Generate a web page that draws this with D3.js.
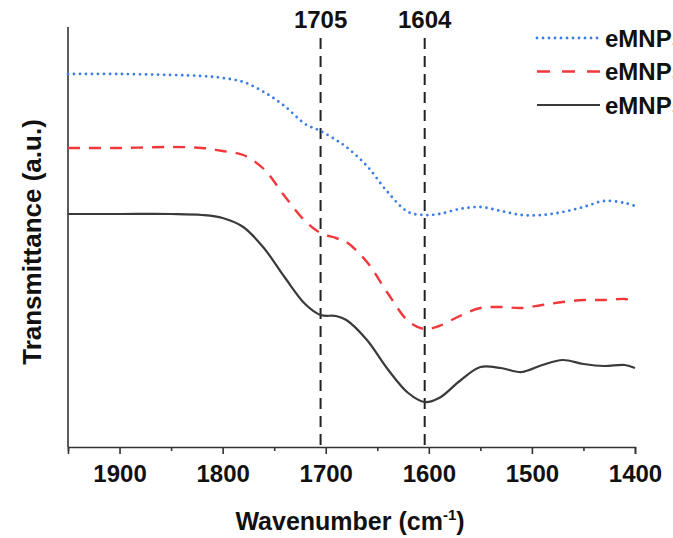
<!DOCTYPE html>
<html>
<head>
<meta charset="utf-8">
<script src="https://cdn.jsdelivr.net/npm/d3@7"></script>
<style>
  body { margin: 0; background: #fff; }
  svg { display: block; font-family: "Liberation Sans", Arial, sans-serif; }
</style>
</head>
<body>
<div id="chart"></div>
<script>
// data (transmittance in a.u.)
const wavenumbers = [1950, 1900, 1850, 1820, 1800, 1780, 1760, 1740, 1720, 1705, 1690, 1680, 1660, 1640, 1620, 1604, 1590, 1570, 1550, 1530, 1510, 1490, 1470, 1450, 1430, 1410, 1400]
const blueVals  = [373, 373, 372, 371, 369, 365, 355, 341, 323, 316, 307, 300, 281, 255, 235, 232, 233, 238, 240, 236, 232, 232, 235, 240, 246, 244, 241]
const redVals   = [299, 299, 300, 299, 296, 292, 278, 251, 226, 214, 209, 205, 185, 154, 126, 118, 121, 131, 139, 140, 139, 142, 145, 147, 147, 148, 146]
const blackVals = [233, 233, 233, 232, 229, 220, 199, 170, 143, 132, 131, 127, 107, 78, 54, 45, 49, 66, 80, 79, 75, 82, 87, 83, 81, 82, 79]
const seriesNames = ["eMNPs-1", "eMNPs-2", "eMNPs-3"]
const peaks = [1705, 1604]
const xTicks = [1900, 1800, 1700, 1600, 1500, 1400]

const width = 673
const height = 538
const margin = { top: 27, bottom: 91, left: 68, right: 38 }

const svg = d3.select("#chart").append("svg").attr("width", width).attr("height", height)

const x = d3.scaleLinear().domain([1950, 1400]).range([margin.left, width - margin.right])
const y = d3.scaleLinear().domain([0, 420]).range([height - margin.bottom, margin.top])

// ejes
const xAxis = d3.axisBottom(x).tickValues(xTicks).tickFormat(d3.format("d")).tickSize(7).tickPadding(11)
const xMinor = d3.axisBottom(x).tickValues([1950, 1850, 1750, 1650, 1550, 1450]).tickFormat("").tickSize(4)

const xg = svg.append("g").attr("transform", `translate(0, ${height - margin.bottom})`).call(xAxis)
svg.append("g").attr("transform", `translate(0, ${height - margin.bottom})`).call(xMinor)
  .call(g => g.select(".domain").remove())
xg.selectAll("text").attr("font-size", 24).attr("font-weight", "bold").attr("fill", "#111")
svg.selectAll(".domain, .tick line").attr("stroke", "#333").attr("stroke-width", 1.6)

svg.append("line")
  .attr("x1", margin.left).attr("x2", margin.left)
  .attr("y1", margin.top).attr("y2", height - margin.bottom)
  .attr("stroke", "#333").attr("stroke-width", 1.6)

// titulos
svg.append("text").attr("x", 350).attr("y", 530).attr("text-anchor", "middle")
  .attr("font-size", 25).attr("font-weight", "bold").attr("fill", "#111")
  .html('Wavenumber (cm<tspan dy="-10" font-size="15">-1</tspan><tspan dy="10">)</tspan>')

svg.append("text").attr("transform", "translate(41, 242) rotate(-90)").attr("text-anchor", "middle")
  .attr("font-size", 26).attr("font-weight", "bold").attr("fill", "#111")
  .text("Transmittance (a.u.)")

// lineas verticales de picos
peaks.forEach(p => {
  svg.append("line")
    .attr("x1", x(p)).attr("x2", x(p))
    .attr("y1", 38).attr("y2", height - margin.bottom)
    .attr("stroke", "#222").attr("stroke-width", 2).attr("stroke-dasharray", "11 7")
  svg.append("text").attr("x", x(p)).attr("y", 28).attr("text-anchor", "middle")
    .attr("font-size", 24).attr("font-weight", "bold").attr("fill", "#111").text(p)
})

// curvas
const styles = [
  { color: "#3b7de8", dash: "0 6", width: 2.8, cap: "round" },
  { color: "#f2383a", dash: "12 9", width: 2.4, cap: "butt" },
  { color: "#3a3a3a", dash: null, width: 2.2, cap: "butt" }
]
const allVals = [blueVals, redVals, blackVals]

const line = d3.line().x(d => x(d[0])).y(d => y(d[1])).curve(d3.curveCatmullRom.alpha(0.5))

allVals.forEach((vals, i) => {
  svg.append("path")
    .datum(wavenumbers.map((w, j) => [w, vals[j]]))
    .attr("d", line)
    .attr("fill", "none")
    .attr("stroke", styles[i].color)
    .attr("stroke-width", styles[i].width)
    .attr("stroke-linecap", styles[i].cap)
    .attr("stroke-dasharray", styles[i].dash)
})

// leyenda
const legend = svg.append("g")
seriesNames.forEach((name, i) => {
  const ly = 38 + i * 33.5
  legend.append("line")
    .attr("x1", 537).attr("x2", 600).attr("y1", ly).attr("y2", ly)
    .attr("stroke", styles[i].color).attr("stroke-width", styles[i].width)
    .attr("stroke-linecap", styles[i].cap).attr("stroke-dasharray", i === 1 ? "13 12" : styles[i].dash)
  legend.append("text").attr("x", 605).attr("y", ly + 8.5)
    .attr("font-size", 24).attr("font-weight", "bold").attr("fill", "#111").text(name)
})
</script>
</body>
</html>
